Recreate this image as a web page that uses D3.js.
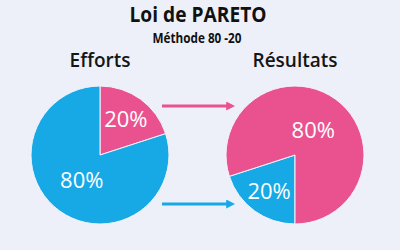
<!DOCTYPE html>
<html>
<head>
<meta charset="utf-8">
<script src="https://cdn.jsdelivr.net/npm/d3@7"></script>
<style>
  body { margin: 0; background: #edf0f8; }
  text { font-family: "Open Sans", sans-serif; }
</style>
</head>
<body>
<div id="chart"></div>
<script>
// Loi de Pareto : 20% des efforts -> 80% des resultats
var title = "Loi de PARETO";
var subtitle = "Méthode 80 -20";
var pieNames = ["Efforts", "Résultats"];
var groups = ["vital", "trivial"];      // pink, blue
var effortsValues = [20, 80];
var resultsValues = [80, 20];

var width = 400, height = 250;
var colors = d3.scaleOrdinal().domain(groups).range(["#e9528f", "#16a9e6"]);

var svg = d3.select("#chart")
    .append("svg")
    .attr("width", width)
    .attr("height", height);

svg.append("rect")
    .attr("width", width)
    .attr("height", height)
    .attr("fill", "#edf0f8");

// titles
svg.append("text")
    .attr("x", 198)
    .attr("y", 22)
    .attr("text-anchor", "middle")
    .attr("font-size", 22)
    .attr("font-weight", 700)
    .attr("textLength", 137)
    .attr("lengthAdjust", "spacingAndGlyphs")
    .attr("fill", "#111")
    .text(title);

svg.append("text")
    .attr("x", 197)
    .attr("y", 43)
    .attr("text-anchor", "middle")
    .attr("font-size", 15)
    .attr("font-weight", 700)
    .attr("textLength", 89)
    .attr("lengthAdjust", "spacingAndGlyphs")
    .attr("fill", "#111")
    .text(subtitle);

var radius = 69;
var pies = [
  {name: pieNames[0], cx: 100, values: effortsValues, order: [0, 1], start: 0},
  {name: pieNames[1], cx: 295, values: resultsValues, order: [1, 0], start: Math.PI}
];

var arc = d3.arc().innerRadius(0).outerRadius(radius);

pies.forEach(function(p) {
  var data = p.order.map(function(i) { return {group: groups[i], value: p.values[i]}; });
  var pie = d3.pie().sort(null).value(function(d) { return d.value; })
      .startAngle(p.start).endAngle(p.start + 2 * Math.PI);

  var g = svg.append("g")
      .attr("transform", "translate(" + p.cx + ",155)");

  g.selectAll("path")
    .data(pie(data))
    .enter()
    .append("path")
    .attr("d", arc)
    .attr("fill", function(d) { return colors(d.data.group); })
    .attr("stroke", "#f4f4fb")
    .attr("stroke-width", 1);

  // small slice labels further out than the big one
  g.selectAll(".pct")
    .data(pie(data))
    .enter()
    .append("text")
    .attr("class", "pct")
    .attr("transform", function(d) {
      var r = d.data.value < 50 ? 44 : 31;
      var c = d3.arc().innerRadius(r).outerRadius(r).centroid(d);
      return "translate(" + c + ")";
    })
    .attr("dy", "0.36em")
    .attr("text-anchor", "middle")
    .attr("font-size", 22)
    .attr("fill", "#fff")
    .text(function(d) { return d.data.value + "%"; });

  svg.append("text")
    .attr("x", p.cx)
    .attr("y", 67)
    .attr("text-anchor", "middle")
    .attr("font-size", 19)
    .attr("font-weight", 600)
    .attr("fill", "#151515")
    .text(p.name);
});

// arrows
var defs = svg.append("defs");
groups.forEach(function(gname) {
  defs.append("marker")
    .attr("id", "arrow-" + gname)
    .attr("viewBox", "0 0 10 10")
    .attr("refX", 2)
    .attr("refY", 5)
    .attr("markerWidth", 3)
    .attr("markerHeight", 3)
    .attr("orient", "auto")
    .append("path")
    .attr("d", "M0,0 L10,5 L0,10 z")
    .attr("fill", colors(gname));
});

var arrowY = d3.scalePoint().domain(groups).range([106, 204]);
svg.selectAll(".arrow")
  .data(groups)
  .enter()
  .append("line")
  .attr("class", "arrow")
  .attr("x1", 162)
  .attr("x2", 228)
  .attr("y1", function(d) { return arrowY(d); })
  .attr("y2", function(d) { return arrowY(d); })
  .attr("stroke", function(d) { return colors(d); })
  .attr("stroke-width", 3)
  .attr("marker-end", function(d) { return "url(#arrow-" + d + ")"; });
</script>
</body>
</html>
